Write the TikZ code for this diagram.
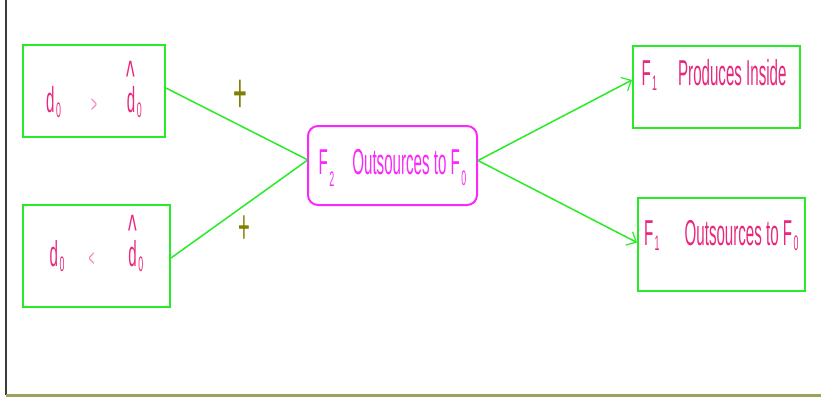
\documentclass[tikz,border=0pt]{standalone}
\usepackage{fontspec}
\setmainfont[FakeStretch=0.42]{Liberation Sans}
\usepackage{xcolor}
\usetikzlibrary{
    arrows.meta,
    calc
}
\definecolor{lnGreen}{RGB}{40,235,40}
\definecolor{txPink}{RGB}{232,40,125}
\definecolor{ltPink}{RGB}{245,130,190}
\definecolor{hubMag}{RGB}{250,40,250}
\definecolor{plusOlive}{RGB}{128,128,0}
\definecolor{frameOlive}{RGB}{160,160,90}
\definecolor{frameGray}{RGB}{60,60,60}
\newcommand{\idx}[2][-5pt]{\kern1.5pt\raisebox{#1}{\fontsize{21}{21}\selectfont #2}}
\newcommand{\hatd}{\makebox[0pt][l]{\raisebox{21pt}{\fontsize{44}{44}\selectfont\textasciicircum}}d\idx{0}}
\tikzset{
  cbox/.style  = {draw=lnGreen, line width=2pt, inner sep=0pt, text=txPink,
                  font=\fontsize{36}{36}\selectfont},
  hub/.style   = {draw=hubMag, line width=2pt, rounded corners=10pt,
                  inner sep=0pt, text=hubMag, font=\fontsize{36}{36}\selectfont},
  ln/.style    = {lnGreen, line width=1.5pt},
  arr/.style   = {ln, -{Straight Barb[length=8pt,width=15pt,line width=1.2pt]}}
}

\begin{document}
\begin{tikzpicture}[
        x=1pt, y=-1pt,
        plus/.style={text=plusOlive, inner sep=0pt}
      ]
        \useasboundingbox (0,0) rectangle (821,400);
        \draw[frameGray, line width=1.5pt] (6,0) -- (6,395);
        \draw[frameOlive, line width=3pt] (6,395) -- (821,395);

        % ── CONDITIONS ──
        \node[cbox, minimum width=142pt, minimum height=92pt,
              text height=44pt, text depth=2pt] (C_gt) at (94,91)
              {d\idx{0}\hspace{30pt}{\color{ltPink}\fontsize{24}{24}\selectfont >}\hspace{30pt}\hatd};
        \node[cbox, minimum width=147pt, minimum height=102pt,
              text height=30pt, text depth=10pt] (C_lt) at (96.5,256)
              {d\idx{0}\hspace{24pt}{\color{ltPink}\fontsize{24}{24}\selectfont <}\hspace{34pt}\hatd};

        % ── OUTCOME OF F2 ──
        \node[hub, minimum width=169pt, minimum height=79pt,
              text height=27pt, text depth=10pt] (F2_out) at (392.5,165.5)
              {F\idx[-12pt]{2}\hspace{18pt}Outsources to F\idx[-11pt]{0}};

        % ── RESPONSES OF F1 ──
        \node[cbox, minimum width=167pt, minimum height=82pt, inner xsep=8.5pt,
              text height=24pt, text depth=28pt] (F1_in) at (716.5,87)
              {\makebox[150pt][l]{F\idx{1}\hspace{21pt}Produces Inside}};
        \node[cbox, minimum width=167pt, minimum height=93pt, inner xsep=6pt,
              text height=21pt, text depth=20pt] (F1_out) at (721.5,244.5)
              {\makebox[155pt][l]{F\idx{1}\hspace{25pt}Outsources to F\idx{0}}};

        % signs on the links
        \node[plus, font=\fontsize{56}{56}\selectfont] (s_gt) at (240,96) {+};
        \node[plus, font=\fontsize{48}{48}\selectfont] (s_lt) at (244,230) {+};

        \draw[ln] ([yshift=3pt]C_gt.east) -- ([yshift=6pt]F2_out.west);
        \draw[ln] ([yshift=-2pt]C_lt.east) -- ([yshift=5pt]F2_out.west);
        \draw[arr] ([yshift=5pt]F2_out.east) -- ([yshift=7pt]F1_in.west);
        \draw[arr] ([yshift=5pt]F2_out.east) -- ([yshift=2pt]F1_out.west);
      \end{tikzpicture}
\end{document}
